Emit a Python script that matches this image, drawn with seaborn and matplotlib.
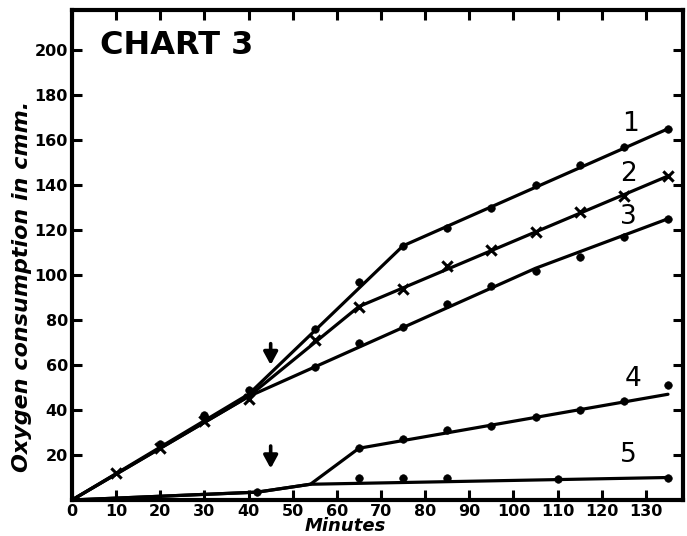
import matplotlib
matplotlib.use("Agg")
import matplotlib.pyplot as plt
import seaborn as sns
import pandas as pd

# ---- data ----
x_ticks = [0, 10, 20, 30, 40, 50, 60, 70, 80, 90, 100, 110, 120, 130]
y_ticks = [20, 40, 60, 80, 100, 120, 140, 160, 180, 200]

pts1_x = [20, 30, 40, 55, 65, 75, 85, 95, 105, 115, 125, 135]
pts1_y = [25, 38, 49, 76, 97, 113, 121, 130, 140, 149, 157, 165]
line1_x = [0, 40, 75, 135]
line1_y = [0, 47, 113, 165]

pts2_x = [10, 20, 30, 40, 55, 65, 75, 85, 95, 105, 115, 125, 135]
pts2_y = [12, 23, 35, 45, 71, 86, 94, 104, 111, 119, 128, 135, 144]
line2_x = [0, 40, 65, 135]
line2_y = [0, 46, 86, 144]

pts3_x = [55, 65, 75, 85, 95, 105, 115, 125, 135]
pts3_y = [59, 70, 77, 87, 95, 102, 108, 117, 125]
line3_x = [0, 40, 105, 135]
line3_y = [0, 46, 103, 125]

pts4_x = [42, 65, 75, 85, 95, 105, 115, 125, 135]
pts4_y = [3.5, 23, 27, 31, 33, 37, 40, 44, 51]
line4_x = [0, 42, 54, 65, 135]
line4_y = [0, 3.5, 7, 23, 47]

pts5_x = [65, 75, 85, 110, 135]
pts5_y = [10, 10, 10, 9.5, 10]
line5_x = [0, 42, 54, 135]
line5_y = [0, 3.5, 7, 10]

curve_labels = ["1", "2", "3", "4", "5"]
label_x = [126.5, 126, 126, 127, 126]
label_y = [167, 145, 126, 54, 20]

arrow_x = [45, 45]
arrow_top = [69.5, 24]
arrow_tip = [60, 14]

# ---- figure ----
sns.set_theme(style="white")
plt.rcParams["font.family"] = ["DejaVu Sans"]

fig = plt.figure(figsize=(6.87, 5.36), dpi=100)
ax = fig.add_axes([72 / 687, 1 - 500 / 536, (683 - 72) / 687, (500 - 10) / 536])

lines = [(line1_x, line1_y), (line2_x, line2_y), (line3_x, line3_y),
         (line4_x, line4_y), (line5_x, line5_y)]
for lx, ly in lines:
    df = pd.DataFrame({"Minutes": lx, "O2": ly})
    sns.lineplot(data=df, x="Minutes", y="O2", sort=False, color="black",
                 linewidth=2.3, ax=ax, estimator=None)

dots = [(pts1_x, pts1_y), (pts3_x, pts3_y), (pts4_x, pts4_y), (pts5_x, pts5_y)]
for px, py in dots:
    df = pd.DataFrame({"Minutes": px, "O2": py})
    sns.scatterplot(data=df, x="Minutes", y="O2", color="black", s=30,
                    marker="o", edgecolor="black", ax=ax, zorder=3)

df2 = pd.DataFrame({"Minutes": pts2_x, "O2": pts2_y})
sns.scatterplot(data=df2, x="Minutes", y="O2", color="black", s=55,
                marker="x", linewidth=2.2, ax=ax, zorder=3)

for t, lx, ly in zip(curve_labels, label_x, label_y):
    ax.text(lx, ly, t, fontsize=19, ha="center", va="center", color="black")

for axx, top, tip in zip(arrow_x, arrow_top, arrow_tip):
    ax.annotate("", xy=(axx, tip), xytext=(axx, top),
                arrowprops=dict(arrowstyle="-|>,head_length=0.55,head_width=0.3",
                                lw=2.6, color="black", mutation_scale=14,
                                shrinkA=0, shrinkB=0))

ax.text(6.3, 202, "CHART 3", fontsize=23, fontweight="bold",
        ha="left", va="center", color="black")

ax.set_xlim(0, 138.4)
ax.set_ylim(0, 217.8)
ax.set_xticks(x_ticks)
ax.set_yticks(y_ticks)
ax.set_xticklabels([str(v) for v in x_ticks], fontsize=11.5, fontweight="bold")
ax.set_yticklabels([str(v) for v in y_ticks], fontsize=11.5, fontweight="bold")
ax.tick_params(axis="both", which="both", direction="in", length=7, width=2.2,
               top=True, right=True, bottom=True, left=True, colors="black",
               labelcolor="black", pad=3)
ax.set_xlabel("Minutes", fontsize=13, fontstyle="italic", fontweight="bold",
              color="black")
ax.set_ylabel("Oxygen consumption in cmm.", fontsize=16, fontstyle="italic",
              fontweight="bold", color="black")
ax.xaxis.set_label_coords(0.447, -0.054)
ax.yaxis.set_label_coords(-0.082, 0.435)
ax.xaxis.label.set_va("center")
ax.yaxis.label.set_va("center")
for sp in ax.spines.values():
    sp.set_visible(True)
    sp.set_color("black")
    sp.set_linewidth(3)

fig.savefig("out.png", dpi=100)
